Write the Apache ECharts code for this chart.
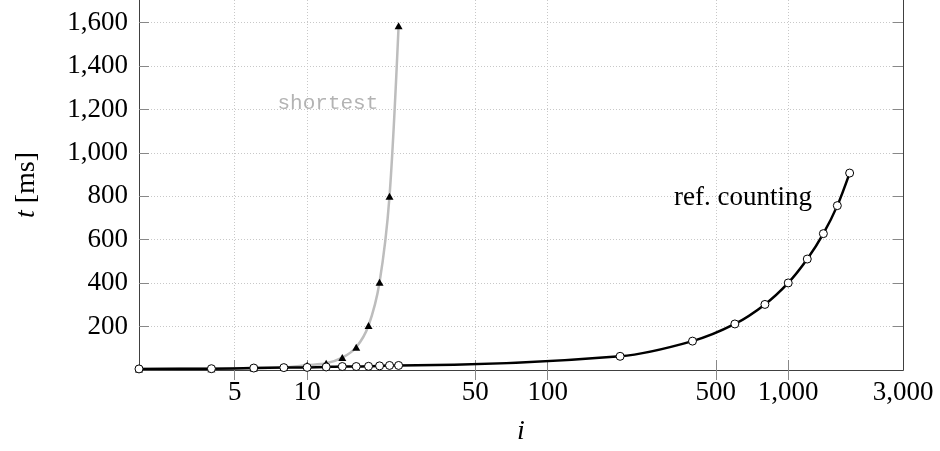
<!DOCTYPE html>
<html>
<head>
<meta charset="utf-8">
<script src="https://cdn.jsdelivr.net/npm/echarts@6/dist/echarts.min.js"></script>
<style>
  html, body { margin: 0; padding: 0; background: #fff; }
  #chart { width: 940px; height: 451px; }
</style>
</head>
<body>
<div id="chart"></div>
<script>
// Problem size i (log scale)
const iValues = [2, 4, 6, 8, 10, 12, 14, 16, 18, 20, 22, 24, 200, 400, 600, 800, 1000, 1200, 1400, 1600, 1800];
// Runtime t [ms] of the reference-counting variant
const refCounting = [5, 6, 9, 11, 12, 14, 16, 16, 17, 19, 21, 21, 63, 133, 212, 302, 401, 511, 628, 757, 907];
// Problem size and runtime of the "shortest" variant
const shortestI = [2, 4, 6, 8, 10, 12, 14, 16, 18, 20, 22, 24];
const shortest = [5, 6, 9, 11, 22, 31, 57, 105, 205, 404, 800, 1585];

const xTicks = [5, 10, 50, 100, 500, 1000, 3000];
const yTicks = [200, 400, 600, 800, 1000, 1200, 1400, 1600];

// Where the curve names sit, in data coordinates
const shortestLabelAt = [12.2, 1228];
const refLabelAt = [649, 794];

const serif = '"Liberation Serif", "DejaVu Serif", serif';
const mono = '"Liberation Mono", "DejaVu Sans Mono", monospace';
const axisColor = '#404040';
const gridStyle = { color: '#c8c8c8', width: 1, type: [1, 2] };
const fmt = v => Number(v).toLocaleString('en-US');

const chart = echarts.init(document.getElementById('chart'), null, { renderer: 'canvas' });

function nameTag(coord, text, style) {
  return {
    symbol: 'circle', symbolSize: 1,
    itemStyle: { color: 'rgba(0,0,0,0)' },
    data: [{ coord: coord, value: 0 }],
    label: Object.assign({ show: true, formatter: text, position: 'inside' }, style)
  };
}

chart.setOption({
  animation: false,
  backgroundColor: '#fff',
  grid: { left: 139, right: 37, top: -2, bottom: 80, containLabel: false },
  xAxis: [
    {
      type: 'log', logBase: 10, min: 2, max: 3000, position: 'bottom',
      name: 'i', nameLocation: 'middle', nameGap: 48,
      nameTextStyle: { fontFamily: serif, fontStyle: 'italic', fontSize: 28, color: '#000' },
      axisLine: { show: true, lineStyle: { color: axisColor, width: 1 } },
      axisTick: { show: true, inside: true, length: 10, customValues: xTicks.slice(0, -1), lineStyle: { color: '#888' } },
      minorTick: { show: false },
      axisLabel: { customValues: xTicks, formatter: fmt, fontFamily: serif, fontSize: 27, color: '#000', margin: 9 },
      splitLine: { show: true, lineStyle: gridStyle },
      minorSplitLine: { show: false }
    },
    {
      type: 'log', logBase: 10, min: 2, max: 3000, position: 'top',
      axisLine: { show: true, lineStyle: { color: axisColor, width: 1 } },
      axisTick: { show: true, inside: true, length: 10, customValues: xTicks.slice(0, -1), lineStyle: { color: '#888' } },
      axisLabel: { show: false },
      splitLine: { show: false }
    }
  ],
  yAxis: [
    {
      type: 'value', min: 0, max: 1704, interval: 200, position: 'left',
      name: '{it|t} [ms]', nameLocation: 'middle', nameGap: 98, nameRotate: 90,
      nameTextStyle: {
        fontFamily: serif, fontSize: 28, color: '#000',
        rich: { it: { fontFamily: serif, fontStyle: 'italic', fontSize: 28, color: '#000' } }
      },
      axisLine: { show: true, lineStyle: { color: axisColor, width: 1 } },
      axisTick: { show: true, inside: true, length: 10, customValues: yTicks, lineStyle: { color: '#888' } },
      axisLabel: { customValues: yTicks, formatter: fmt, fontFamily: serif, fontSize: 27, color: '#000', margin: 11 },
      splitLine: { show: true, lineStyle: gridStyle }
    },
    {
      type: 'value', min: 0, max: 1704, interval: 200, position: 'right',
      axisLine: { show: true, lineStyle: { color: axisColor, width: 1 } },
      axisTick: { show: true, inside: true, length: 10, customValues: yTicks, lineStyle: { color: '#888' } },
      axisLabel: { show: false },
      splitLine: { show: false }
    }
  ],
  series: [
    {
      name: 'shortest', type: 'line', xAxisIndex: 0, yAxisIndex: 0,
      data: shortestI.map((x, k) => [x, shortest[k]]),
      smooth: 0.3,
      lineStyle: { color: '#bdbdbd', width: 2.5 },
      symbol: 'triangle', symbolSize: [8, 7],
      itemStyle: { color: '#000', borderWidth: 0 },
      z: 2,
      markPoint: nameTag(shortestLabelAt, 'shortest', { fontFamily: mono, fontSize: 21, color: '#b3b3b3' })
    },
    {
      name: 'ref. counting', type: 'line', xAxisIndex: 0, yAxisIndex: 0,
      data: iValues.map((x, k) => [x, refCounting[k]]),
      smooth: 0.3,
      lineStyle: { color: '#000', width: 2.5 },
      symbol: 'circle', symbolSize: 8,
      itemStyle: { color: '#fff', borderColor: '#000', borderWidth: 1 },
      z: 3,
      markPoint: nameTag(refLabelAt, 'ref. counting', { fontFamily: serif, fontSize: 27, color: '#000' })
    }
  ]
});
</script>
</body>
</html>
